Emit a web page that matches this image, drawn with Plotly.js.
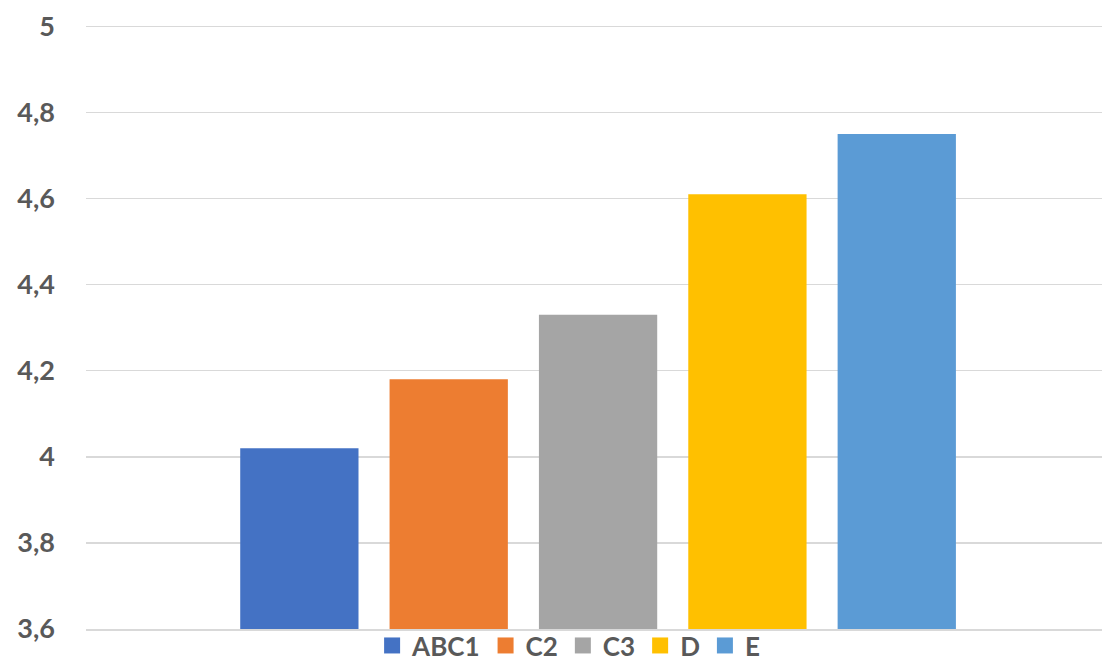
<!DOCTYPE html>
<html><head><meta charset="utf-8">
<script src="https://cdn.plot.ly/plotly-3.0.1.min.js"></script>
<style>html,body{margin:0;padding:0;background:#fff}#chart{width:1102px;height:662px}</style>
</head><body><div id="chart"></div>
<script>
const seriesNames = ['ABC1', 'C2', 'C3', 'D', 'E'];
const seriesValues = [4.02, 4.18, 4.33, 4.61, 4.75];
const seriesColors = ['#4472C4', '#ED7D31', '#A5A5A5', '#FFC000', '#5B9BD5'];
const category = [''];
const yTicks = [3.6, 3.8, 4, 4.2, 4.4, 4.6, 4.8, 5];
const yTickLabels = ['3,6', '3,8', '4', '4,2', '4,4', '4,6', '4,8', '5'];

const traces = seriesNames.map((n, i) => ({
  type: 'bar', name: n, x: category, y: [seriesValues[i]],
  marker: {color: seriesColors[i]}, hoverinfo: 'skip', showlegend: false
}));
seriesNames.forEach((n, i) => traces.push({
  type: 'scatter', mode: 'markers', name: n, x: [null], y: [null],
  marker: {symbol: 'square', size: 16, color: seriesColors[i]}, showlegend: true
}));

const layout = {
  width: 1102, height: 662,
  margin: {l: 86, r: 0, t: 22, b: 33, autoexpand: false},
  paper_bgcolor: '#fff', plot_bgcolor: '#fff',
  font: {family: 'Lato, sans-serif', color: '#595959'},
  barmode: 'group', bargap: 0.265, bargroupgap: 0.208,
  showlegend: true,
  legend: {orientation: 'h', x: 0.475, xanchor: 'center', y: -0.066, yanchor: 'bottom',
    bgcolor: 'rgba(0,0,0,0)',
    font: {size: 26, family: 'Lato, sans-serif', weight: 'bold', color: '#595959'},
    itemwidth: 30, traceorder: 'normal', itemsizing: 'trace'},
  xaxis: {range: [-0.504, 0.496], showticklabels: false, showgrid: false, zeroline: false,
    showline: true, linecolor: '#D9D9D9', linewidth: 1.5, fixedrange: true},
  yaxis: {range: [3.6, 5.01], tickvals: yTicks, ticktext: yTickLabels, showgrid: true,
    gridcolor: '#D9D9D9', gridwidth: 1.5, zeroline: false, showline: false,
    ticks: '', ticklabelstandoff: 30,
    tickfont: {size: 27, family: 'Lato, sans-serif', weight: 'bold', color: '#595959'}}
};
Plotly.newPlot('chart', traces, layout, {displayModeBar: false, staticPlot: true});
</script></body></html>
